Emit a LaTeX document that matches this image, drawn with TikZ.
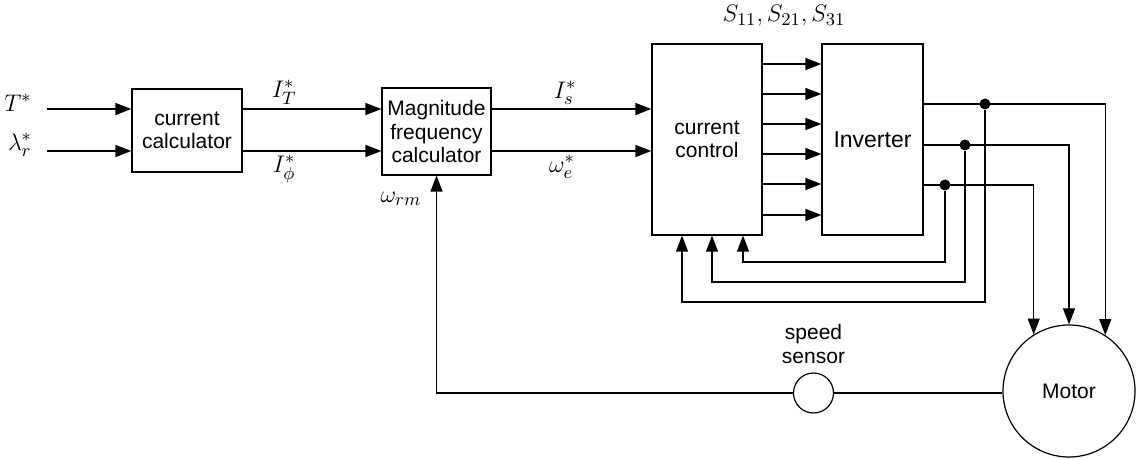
\documentclass[tikz,border=0pt]{standalone}
\usepackage{fontspec}
\setsansfont{Liberation Sans}
\usetikzlibrary{arrows.meta,positioning,calc}

\begin{document}
\begin{tikzpicture}[
  x=0.5pt, y=-0.5pt, line width=0.6pt,
  box/.style={draw, align=center, inner sep=2pt, font=\sffamily\fontsize{10.5}{11.8}\selectfont},
  lab/.style={inner sep=1pt, font=\fontsize{13}{15}\selectfont},
  dot/.style={circle, fill, inner sep=0pt, minimum size=5.5pt},
  arr/.style={-{Triangle[length=8pt,width=6pt]}}]
  \useasboundingbox (0,0) rectangle (1144,459);
  \node[box, minimum width=55pt, minimum height=41.5pt] (calc) at (187,130.5) {current\\calculator};
  \node[box, minimum width=54.5pt, minimum height=43.5pt] (mag) at (436.5,131.5) {Magnitude\\frequency\\calculator};
  \node[box, minimum width=55pt, minimum height=95.5pt] (cc) at (707,139.5) {current\\control};
  \node[box, minimum width=50.5pt, minimum height=95.5pt, font=\sffamily\fontsize{11.5}{13}\selectfont] (inv) at (872.5,139.5) {Inverter};
  \node[box, circle, inner sep=0pt, minimum size=66pt] (motor) at (1069,391) {Motor};
  \node[box, circle, inner sep=0pt, minimum size=20pt] (sensor) at (813.5,393) {};
  \node[box, draw=none, above=2pt of sensor] (senlab) {speed\\sensor};
  \node[lab] (tlab) at (18,103) {$T^*$};
  \node[lab] (llab) at (20,145) {$\lambda_r^*$};
  \node[lab] (wlab) at (401,199) {$\omega_{rm}$};
  \node[lab] (slab) at (784,16) {$S_{11},S_{21},S_{31}$};
  \coordinate (tin) at (47,109);
  \coordinate (lin) at (47,151);
  \draw[arr] (tin) -- (tin -| calc.west);
  \draw[arr] (lin) -- (lin -| calc.west);
  \draw[arr] (calc.east |- tin) -- node[pos=0.3, above=1pt, lab]{$I_T^*$} (tin -| mag.west);
  \draw[arr] (calc.east |- lin) -- node[pos=0.3, below=1pt, lab]{$I_\phi^*$} (lin -| mag.west);
  \draw[arr] (mag.east |- tin) -- node[pos=0.46, above=1pt, lab]{$I_s^*$} (tin -| cc.west);
  \draw[arr] (mag.east |- lin) -- node[pos=0.44, below=1pt, lab]{$\omega_e^*$} (lin -| cc.west);
  \foreach \y in {64,94,124,154,184,215}
    \draw[arr] (cc.east |- 0,\y) -- (inv.west |- 0,\y);
  \node[dot] (d1) at (985,104) {};
  \node[dot] (d2) at (965,145) {};
  \node[dot] (d3) at (945,185) {};
  \draw[arr] (inv.east |- d1) -| (motor.57);
  \draw[arr] (inv.east |- d2) -| (motor.90);
  \draw[arr] (inv.east |- d3) -| (motor.122);
  \draw[arr] (d1) -- (d1 |- 0,302) -| ([xshift=-12.5pt]cc.south);
  \draw[arr] (d2) -- (d2 |- 0,282) -| ([xshift=2.5pt]cc.south);
  \draw[arr] (d3) -- (d3 |- 0,262) -| ([xshift=18pt]cc.south);
  \draw (sensor.east) -- (sensor.east -| motor.west);
  \draw[arr] (sensor.west) -| (mag.south);
\end{tikzpicture}
\end{document}
